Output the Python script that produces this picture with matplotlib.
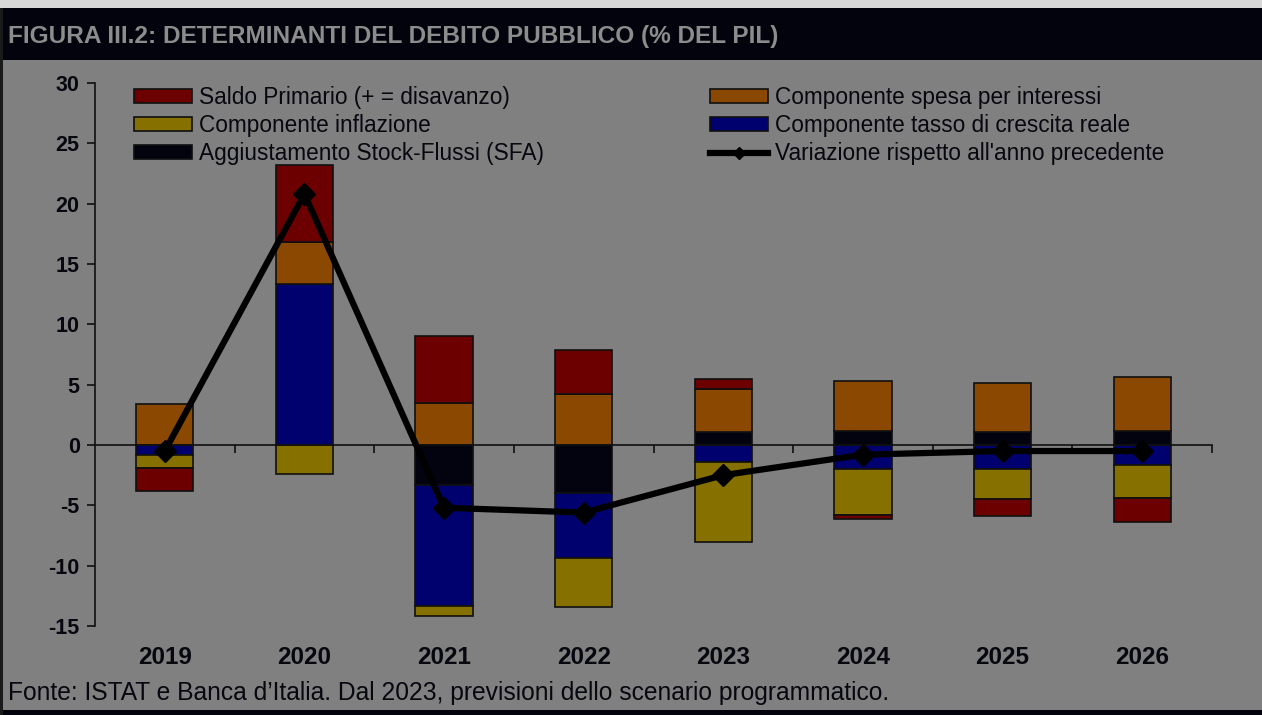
import matplotlib.pyplot as plt
import matplotlib.patches as mpatches
from matplotlib.lines import Line2D
from matplotlib.transforms import blended_transform_factory
import numpy as np

plt.rcParams["axes.unicode_minus"] = False
plt.rcParams["font.family"] = ["Liberation Sans", "DejaVu Sans"]

years = ["2019", "2020", "2021", "2022", "2023", "2024", "2025", "2026"]

# components, % of GDP
sfa = [0.0, 0.0, -3.3, -3.95, 1.1, 1.2, 1.1, 1.2]
crescita = [-0.8, 13.35, -10.05, -5.45, -1.45, -2.0, -1.95, -1.65]
interessi = [3.4, 3.45, 3.5, 4.2, 3.55, 4.1, 4.05, 4.45]
inflazione = [-1.1, -2.4, -0.85, -4.05, -6.55, -3.8, -2.5, -2.75]
saldo = [-1.9, 6.4, 5.55, 3.65, 0.85, -0.35, -1.4, -1.95]
variazione = [-0.5, 20.8, -5.2, -5.6, -2.5, -0.8, -0.5, -0.5]

BG = "#808080"
TXT = "#07070f"
colors = {
    "saldo": "#6c0000",
    "interessi": "#8a4800",
    "inflazione": "#857000",
    "crescita": "#00006e",
    "sfa": "#03030f",
}

fig = plt.figure(figsize=(12.62, 7.15), dpi=100, facecolor=BG)

# frame: light strip on top, black title bar, dark borders
fig.patches.append(mpatches.Rectangle((0, 1 - 8 / 715), 1, 8 / 715, transform=fig.transFigure,
                                      facecolor="#d8d8d8", edgecolor="none", zorder=0))
fig.patches.append(mpatches.Rectangle((0, 1 - 60 / 715), 1, 52 / 715, transform=fig.transFigure,
                                      facecolor="#03030d", edgecolor="none", zorder=0))
fig.patches.append(mpatches.Rectangle((0, 0), 1, 5 / 715, transform=fig.transFigure,
                                      facecolor="#03030d", edgecolor="none", zorder=0))
fig.patches.append(mpatches.Rectangle((0, 0), 3 / 1262, 1 - 8 / 715, transform=fig.transFigure,
                                      facecolor="#1a1a1a", edgecolor="none", zorder=0))

fig.text(8 / 1262, 1 - 36 / 715, "FIGURA III.2: DETERMINANTI DEL DEBITO PUBBLICO (% DEL PIL)",
         color="#8c8c8c", fontsize=17.6, fontweight="bold", va="center", ha="left")
fig.text(8 / 1262, 1 - 693 / 715,
         "Fonte: ISTAT e Banca d\u2019Italia. Dal 2023, previsioni dello scenario programmatico.",
         color=TXT, fontsize=17.7, va="center", ha="left")

ax = fig.add_axes([95 / 1262, 1 - 626 / 715, (1212 - 95) / 1262, (626 - 83) / 715])
ax.set_facecolor(BG)

x = np.arange(len(years))
w = 0.41
pos_bottom = np.zeros(len(years))
neg_bottom = np.zeros(len(years))
series = [("sfa", sfa), ("crescita", crescita), ("interessi", interessi),
          ("inflazione", inflazione), ("saldo", saldo)]
for key, vals in series:
    vals = np.array(vals)
    bottom = np.where(vals >= 0, pos_bottom, neg_bottom)
    ax.bar(x, vals, w, bottom=bottom, color=colors[key], edgecolor="#101010",
           linewidth=1.2, zorder=2)
    pos_bottom = pos_bottom + np.where(vals > 0, vals, 0)
    neg_bottom = neg_bottom + np.where(vals < 0, vals, 0)

ax.plot(x, variazione, color="black", linewidth=4.5, marker="D", markersize=11, zorder=4)

ax.set_xlim(-0.5, len(years) - 0.5)
ax.set_ylim(-15, 30)
ax.set_yticks(np.arange(-15, 31, 5))
ax.tick_params(axis="y", direction="out", length=6, width=1.2, colors="#101010",
               labelsize=15.5, labelcolor=TXT, pad=5)
for lab in ax.get_yticklabels():
    lab.set_fontweight("bold")

ax.spines["top"].set_visible(False)
ax.spines["right"].set_visible(False)
ax.spines["left"].set_color("#101010")
ax.spines["left"].set_linewidth(1.2)
ax.spines["bottom"].set_position(("data", 0))
ax.spines["bottom"].set_color("#101010")
ax.spines["bottom"].set_linewidth(1.2)
ax.set_xticks(np.arange(0.5, len(years), 1))
ax.set_xticklabels([])
ax.tick_params(axis="x", direction="out", length=6, width=1.2, colors="#101010")

trans = blended_transform_factory(ax.transData, ax.transAxes)
for xi, yr in zip(x, years):
    ax.text(xi, -0.058, yr, transform=trans, ha="center", va="center",
            fontsize=17.5, fontweight="bold", color=TXT)

def patch(key, label):
    return mpatches.Patch(facecolor=colors[key], edgecolor="#101010", linewidth=1.2, label=label)

left_handles = [
    patch("saldo", "Saldo Primario (+ = disavanzo)"),
    patch("inflazione", "Componente inflazione"),
    patch("sfa", "Aggiustamento Stock-Flussi (SFA)"),
]
right_handles = [
    patch("interessi", "Componente spesa per interessi"),
    patch("crescita", "Componente tasso di crescita reale"),
    Line2D([0], [0], color="black", linewidth=4.5, marker="D", markersize=6,
           label="Variazione rispetto all'anno precedente"),
]
leg_kw = dict(frameon=False, handlelength=2.55, handleheight=0.55,
              labelspacing=0.22, handletextpad=0.3, borderaxespad=0,
              prop={"size": 16.3})
leg1 = fig.legend(handles=left_handles, loc="upper left",
                  bbox_to_anchor=(125 / 1262, 1 - 77 / 715), **leg_kw)
leg2 = fig.legend(handles=right_handles, loc="upper left",
                  bbox_to_anchor=(701 / 1262, 1 - 77 / 715), **leg_kw)
for leg in (leg1, leg2):
    for t in leg.get_texts():
        t.set_color(TXT)

fig.savefig("out.png", dpi=100, facecolor=BG)
